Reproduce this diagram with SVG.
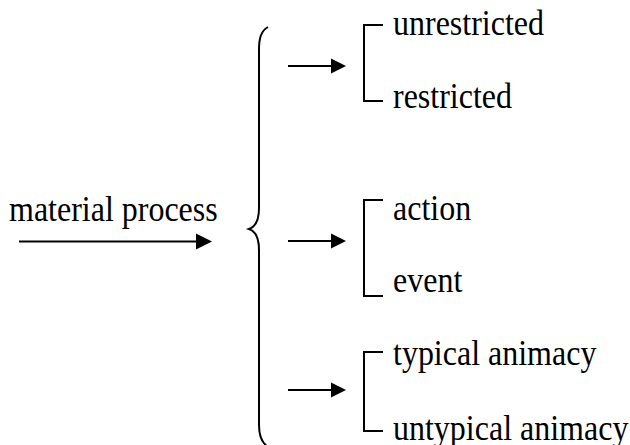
<svg xmlns="http://www.w3.org/2000/svg" width="630" height="445" viewBox="0 0 630 445">
  <style>
    .lbl { font-family: "Liberation Serif", "Times New Roman", serif; font-size: 32px; fill: #000; }
    .ln { stroke: #000; stroke-width: 2; fill: none; }
    .head { fill: #000; stroke: none; }
  </style>
  <rect width="630" height="445" fill="#fff"/>

  <g id="source">
    <text class="lbl" transform="translate(9,221) scale(1,1.1)">material process</text>
  </g>

  <g id="brace">
    <path class="ln" d="M268,27 C261,31 259,38 259,50 L259,208 C259,222 255,227 249,229 C255,231 259,236 259,250 L259,425 C259,437 262,443 268,447"/>
  </g>

  <g id="group-restriction">
    <path class="ln" d="M383,25 L364,25 L364,101 L383,101"/>
    <text class="lbl" transform="translate(393,35) scale(1,1.1)">unrestricted</text>
    <text class="lbl" transform="translate(393,108) scale(1,1.1)">restricted</text>
  </g>

  <g id="group-agency">
    <path class="ln" d="M383,200 L364,200 L364,296 L383,296"/>
    <text class="lbl" transform="translate(393,220) scale(1,1.1)">action</text>
    <text class="lbl" transform="translate(393,292) scale(1,1.1)">event</text>
  </g>

  <g id="group-animacy">
    <path class="ln" d="M383,352 L364,352 L364,431 L383,431"/>
    <text class="lbl" transform="translate(393,365) scale(1,1.1)">typical animacy</text>
    <text class="lbl" transform="translate(393,440) scale(1,1.1)">untypical animacy</text>
  </g>

  <g id="connectors">
    <line class="ln" x1="19" y1="241.5" x2="198" y2="241.5"/>
    <polygon class="head" points="196,233.5 212,241.5 196,249.5"/>

    <line class="ln" x1="288" y1="66" x2="333" y2="66"/>
    <polygon class="head" points="331,58.5 346,66 331,73.5"/>

    <line class="ln" x1="288" y1="241" x2="333" y2="241"/>
    <polygon class="head" points="331,233.5 346,241 331,248.5"/>

    <line class="ln" x1="288" y1="390" x2="333" y2="390"/>
    <polygon class="head" points="331,382.5 346,390 331,397.5"/>
  </g>
</svg>
